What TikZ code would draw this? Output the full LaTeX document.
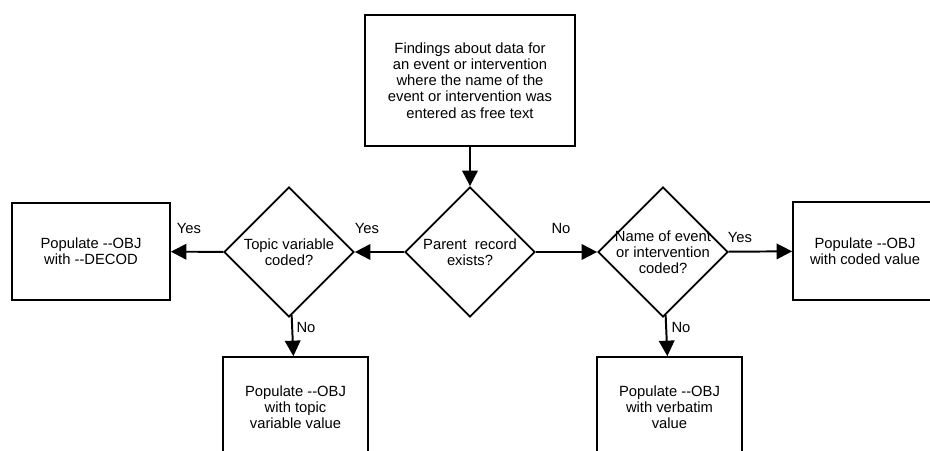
\documentclass[tikz,border=0pt]{standalone}
\usepackage{fontspec}
\setmainfont{Liberation Sans}
\usetikzlibrary{shapes.geometric,arrows.meta}
\begin{document}
\begin{tikzpicture}[x=0.025cm, y=-0.025cm,
  every node/.style={font=\fontsize{10.5}{11.5}\selectfont},
  box/.style={draw, line width=1.2pt, align=center, inner sep=0pt},
  choice/.style={draw, diamond, line width=1.2pt, inner sep=0pt, minimum width=3.25cm, minimum height=3.25cm},
  arr/.style={line width=1.4pt, -{Triangle[length=11pt,width=11pt]}}]
 \clip (0,0) rectangle (930,451);
 \node[box, minimum width=5.25cm, minimum height=3.275cm] (start) at (470,80.5)
   {Findings about data for\\an event or intervention\\where the name of the\\event or intervention was\\entered as free text};
 \node[choice, label={[align=center]center:{Parent\ \ record\\exists?}}] (parent) at (470,252) {};
 \node[choice, label={[align=center]center:{Topic variable\\coded?}}] (topic) at (289,252) {};
 \node[choice, label={[align=center]center:{Name of event\\or intervention\\coded?}}] (named) at (663,252) {};
 \node[box, minimum width=3.95cm, minimum height=2.425cm] (decod) at (91,251.5) {Populate -{}-OBJ\\with -{}-DECOD};
 \node[box, minimum width=3.6cm, minimum height=2.45cm] (coded) at (865,251) {Populate -{}-OBJ\\with coded value};
 \node[box, minimum width=3.625cm, minimum height=2.5cm] (topicval) at (295.5,407) {Populate -{}-OBJ\\with topic\\variable value};
 \node[box, minimum width=3.625cm, minimum height=2.5cm] (verbatim) at (669.5,407) {Populate -{}-OBJ\\with verbatim\\value};
 \draw[arr] (start) -- (parent);
 \draw[arr] (parent) -- (topic);
 \draw[arr] (topic) -- (decod);
 \draw[arr] (topic) -- (topicval);
 \draw[arr] (parent) -- (named);
 \draw[arr] (named) -- (coded);
 \draw[arr] (named) -- (verbatim);
 \node (yesdecod) at (189,228) {Yes};
 \node (yestopic) at (367,228) {Yes};
 \node (nonamed) at (561,228) {No};
 \node (yescoded) at (740,237) {Yes};
 \node (notopic) at (306,327) {No};
 \node (noverbatim) at (681,327) {No};
\end{tikzpicture}
\end{document}
